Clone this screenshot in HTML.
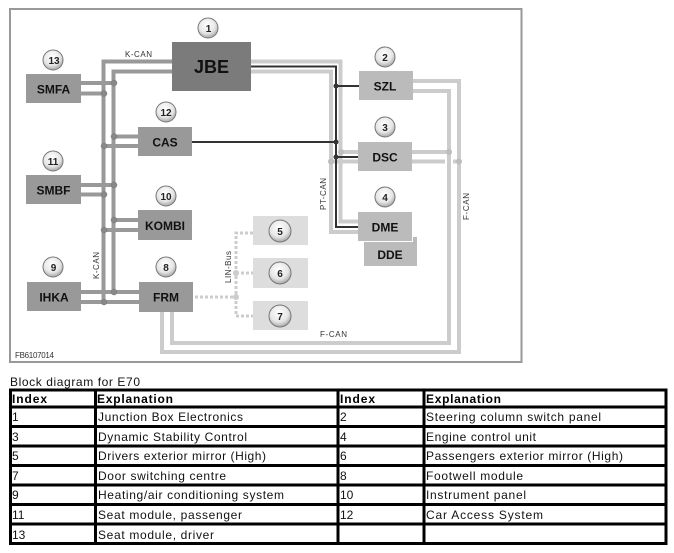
<!DOCTYPE html>
<html><head><meta charset="utf-8"><style>
html,body{margin:0;padding:0;background:#fff;width:674px;height:553px;overflow:hidden}
svg{display:block;filter:blur(.3px)}
text{font-family:"Liberation Sans",sans-serif}
.b{font-weight:bold;font-size:12px;fill:#111;text-anchor:middle}
.n{font-weight:bold;font-size:10px;fill:#222;text-anchor:middle}
.l{font-size:8px;fill:#333}
.t{font-size:12px;fill:#111}
.h{font-size:12px;font-weight:bold;fill:#000}
</style></head><body>
<svg width="674" height="553" viewBox="0 0 674 553" xmlns="http://www.w3.org/2000/svg">
<defs><radialGradient id="g" cx="45%" cy="35%" r="70%"><stop offset="0" stop-color="#fff"/><stop offset=".6" stop-color="#e6e6e6"/><stop offset="1" stop-color="#999"/></radialGradient></defs>
<rect x="10" y="9" width="511.5" height="353" fill="#fff" stroke="#999" stroke-width="2"/>

<!-- K-CAN -->
<g fill="none" stroke="#999" stroke-width="4">
<path d="M172 61.5H103.5V302"/><path d="M172 71.5H113.5V292"/>
<path d="M81 83H114M81 93.500H104M114 136.500H138M104 146H138M81 185H114M81 194.500H104M114 220H138M104 230H138M81 292H139M81 302H139"/>
</g>
<g fill="#888" stroke="#777" stroke-width=".5">
<circle cx="114" cy="83" r="3"/><circle cx="104" cy="93.500" r="3"/><circle cx="114" cy="136.500" r="3"/><circle cx="104" cy="146" r="3"/><circle cx="114" cy="185" r="3"/><circle cx="104" cy="194.500" r="3"/><circle cx="114" cy="220" r="3"/><circle cx="104" cy="230" r="3"/><circle cx="114" cy="292" r="3"/><circle cx="104" cy="302" r="3"/>
</g>

<!-- PT-CAN + F-CAN light -->
<g fill="none" stroke="#ccc" stroke-width="4">
<path d="M251 61.500H340.500V221.500H358"/><path d="M251 71.500H331V232H358"/>
<path d="M341 152H358M331 161.500H358"/>
<path d="M413 81H459V352H162V312"/><path d="M413 91H449V343H172V312"/>
<path d="M412 152H449M412 161.500H445M453 161.500H459"/>
</g>
<g fill="#bdbdbd"><circle cx="341" cy="152" r="3"/><circle cx="331" cy="161.500" r="3"/><circle cx="449" cy="152" r="3"/><circle cx="459" cy="161.500" r="3"/></g>

<!-- dark -->
<g fill="none" stroke="#333" stroke-width="2">
<path d="M251 66.500H336V227H358"/><path d="M336 86H359M192 142H336M336 157H358"/>
</g>
<g fill="#333"><circle cx="336" cy="86" r="2.500"/><circle cx="336" cy="142" r="2.500"/><circle cx="336" cy="157" r="2.500"/></g>

<!-- LIN -->
<g fill="none" stroke="#ccc" stroke-width="3" stroke-dasharray="3 2">
<path d="M253 233H236V316H253M236 273H253M195 297H236"/>
</g>
<g fill="#ccc"><circle cx="236" cy="273" r="3"/><circle cx="236" cy="297" r="3"/></g>

<!-- boxes -->
<g fill="#7b7b7b"><rect x="172" y="42" width="79" height="49"/></g>
<g fill="#999"><rect x="26" y="74" width="55" height="29"/><rect x="138" y="127" width="54" height="29"/><rect x="26" y="175" width="55" height="29"/><rect x="138" y="210" width="54" height="30"/><rect x="27" y="282" width="54" height="29"/><rect x="139" y="282" width="54" height="30"/></g>
<g fill="#bbb"><rect x="359" y="71" width="54" height="29"/><rect x="358" y="142" width="54" height="29"/><rect x="358" y="212" width="54" height="29"/><rect x="364" y="242" width="53" height="24"/><rect x="413" y="237" width="4" height="6"/></g>
<g fill="#ddd"><rect x="253" y="216" width="55" height="29"/><rect x="253" y="258" width="55" height="30"/><rect x="253" y="301" width="55" height="29"/></g>

<text class="b" x="211.500" y="73" style="font-size:18px">JBE</text>
<text class="b" x="53.500" y="93.500">SMFA</text>
<text class="b" x="165" y="146.500">CAS</text>
<text class="b" x="53.500" y="194.500">SMBF</text>
<text class="b" x="165" y="230">KOMBI</text>
<text class="b" x="54" y="301.500">IHKA</text>
<text class="b" x="166" y="301.500">FRM</text>
<text class="b" x="385" y="90.500">SZL</text>
<text class="b" x="385" y="161.500">DSC</text>
<text class="b" x="385" y="231.500">DME</text>
<text class="b" x="390" y="259">DDE</text>

<!-- numbered circles -->
<g fill="url(#g)" stroke="#777" stroke-width="1">
<circle cx="208" cy="28" r="10"/><circle cx="53" cy="60" r="10"/><circle cx="166" cy="112" r="10"/><circle cx="53" cy="161" r="10"/><circle cx="166" cy="196" r="10"/><circle cx="53" cy="267" r="10"/><circle cx="166" cy="267" r="10"/><circle cx="385" cy="57" r="10"/><circle cx="385" cy="127" r="10"/><circle cx="385" cy="197" r="10"/><circle cx="280" cy="231" r="11"/><circle cx="280" cy="273" r="11"/><circle cx="280" cy="316" r="11"/>
</g>
<text class="n" x="208.500" y="32">1</text><text class="n" x="54" y="64">13</text><text class="n" x="166" y="116">12</text><text class="n" x="53" y="165">11</text><text class="n" x="166" y="200">10</text><text class="n" x="53.500" y="271">9</text><text class="n" x="166" y="271">8</text><text class="n" x="385" y="61">2</text><text class="n" x="385" y="131">3</text><text class="n" x="385" y="201">4</text><text class="n" x="280" y="235">5</text><text class="n" x="280" y="277">6</text><text class="n" x="280" y="320">7</text>

<!-- labels -->
<text class="l" x="125" y="57" textLength="27">K-CAN</text>
<text class="l" x="320" y="337" textLength="27">F-CAN</text>
<text class="l" x="15" y="358" textLength="39">FB6107014</text>
<text class="l" transform="translate(99 279) rotate(-90)" textLength="27">K-CAN</text>
<text class="l" transform="translate(326 210) rotate(-90)" textLength="32">PT-CAN</text>
<text class="l" transform="translate(469 220) rotate(-90)" textLength="27">F-CAN</text>
<text class="l" transform="translate(231 283) rotate(-90)" textLength="32">LIN-Bus</text>

<!-- table -->
<text class="t" x="10" y="386" textLength="130">Block diagram for E70</text>
<g fill="none" stroke="#000" stroke-width="3">
<rect x="10.500" y="390" width="655.500" height="153.500"/>
<path d="M10 407H666M10 426.500H666M10 446H666M10 465.500H666M10 485H666M10 504.500H666M10 524H666"/>
<path d="M95.500 390V544M338 390V544M424 390V544"/>
</g>
<g>
<text class="h" x="12" y="403" textLength="35">Index</text><text class="h" x="97" y="403" textLength="76">Explanation</text><text class="h" x="340" y="403" textLength="35">Index</text><text class="h" x="426" y="403" textLength="75">Explanation</text>
<text class="t" x="12" y="421">1</text><text class="t" x="98" y="421" textLength="145">Junction Box Electronics</text><text class="t" x="340" y="421">2</text><text class="t" x="426" y="421" textLength="175">Steering column switch panel</text>
<text class="t" x="12" y="441">3</text><text class="t" x="98" y="441" textLength="149">Dynamic Stability Control</text><text class="t" x="340" y="441">4</text><text class="t" x="426" y="441" textLength="110">Engine control unit</text>
<text class="t" x="12" y="460">5</text><text class="t" x="98" y="460" textLength="168">Drivers exterior mirror (High)</text><text class="t" x="340" y="460">6</text><text class="t" x="426" y="460" textLength="197">Passengers exterior mirror (High)</text>
<text class="t" x="12" y="480">7</text><text class="t" x="98" y="480" textLength="128">Door switching centre</text><text class="t" x="340" y="480">8</text><text class="t" x="426" y="480" textLength="97">Footwell module</text>
<text class="t" x="12" y="499">9</text><text class="t" x="98" y="499" textLength="186">Heating/air conditioning system</text><text class="t" x="340" y="499">10</text><text class="t" x="426" y="499" textLength="100">Instrument panel</text>
<text class="t" x="12" y="519">11</text><text class="t" x="98" y="519" textLength="144">Seat module, passenger</text><text class="t" x="340" y="519">12</text><text class="t" x="426" y="519" textLength="117">Car Access System</text>
<text class="t" x="12" y="539">13</text><text class="t" x="98" y="539" textLength="116">Seat module, driver</text>
</g>
</svg>
</body></html>
